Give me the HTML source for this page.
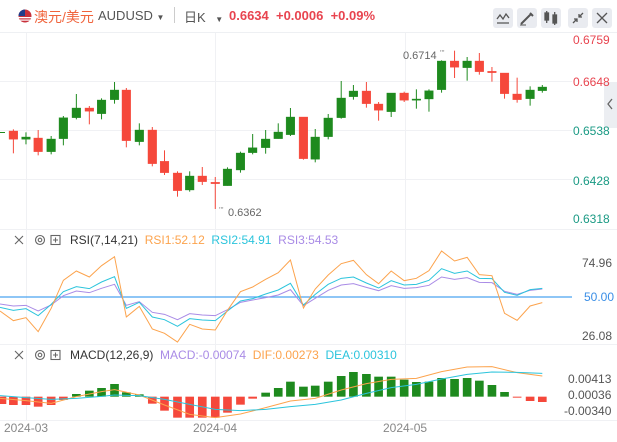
<!DOCTYPE html>
<html><head><meta charset="utf-8"><style>
body{margin:0;width:617px;height:442px;background:#fff;overflow:hidden;font-family:"Liberation Sans","Noto Sans CJK SC",sans-serif;position:relative}
.t{position:absolute;white-space:nowrap}
.btn{position:absolute;top:8px;width:20px;height:20px;background:#e9ebf0;border-radius:3px}
</style></head><body>
<svg width="617" height="442" style="position:absolute;left:0;top:0">
<line x1="0" y1="32.5" x2="617" y2="32.5" stroke="#eef0f3"/>
<g stroke="#f0f1f4" stroke-width="1">
<line x1="26.5" y1="33" x2="26.5" y2="420"/><line x1="215.5" y1="33" x2="215.5" y2="420"/><line x1="405.5" y1="33" x2="405.5" y2="420"/>
<line x1="0" y1="81.5" x2="572" y2="81.5"/><line x1="0" y1="130.5" x2="572" y2="130.5"/><line x1="0" y1="179.5" x2="572" y2="179.5"/>
<line x1="0" y1="229.5" x2="617" y2="229.5"/><line x1="0" y1="344.5" x2="617" y2="344.5"/><line x1="0" y1="420.5" x2="617" y2="420.5"/>
</g>
<rect x="604" y="82" width="13" height="46" fill="#eceef2"/>
<path d="M612 99 L608 104 L612 109" stroke="#666" fill="none" stroke-width="1.3"/>
<line x1="0" y1="132.5" x2="5" y2="132.5" stroke="#1e8a1e"/>
</svg>
<svg width="617" height="442" style="position:absolute;left:0;top:0">
<g transform="scale(0.39355,0.33333)">
<g fill="#f5483b" stroke="#f5483b">
<line x1="34" y1="388" x2="34" y2="460" vector-effect="non-scaling-stroke"/><rect x="23" y="393" width="22" height="25"/>
<line x1="97" y1="390" x2="97" y2="466" vector-effect="non-scaling-stroke"/><rect x="86" y="414" width="22" height="41"/>
<line x1="227" y1="318" x2="227" y2="373" vector-effect="non-scaling-stroke"/><rect x="216" y="324" width="22" height="10"/>
<line x1="321" y1="264" x2="321" y2="442" vector-effect="non-scaling-stroke"/><rect x="310" y="270" width="22" height="152"/>
<line x1="387" y1="381" x2="387" y2="499" vector-effect="non-scaling-stroke"/><rect x="376" y="390" width="22" height="101"/>
<line x1="418" y1="451" x2="418" y2="525" vector-effect="non-scaling-stroke"/><rect x="407" y="484" width="22" height="34"/>
<line x1="451" y1="514" x2="451" y2="590" vector-effect="non-scaling-stroke"/><rect x="440" y="519" width="22" height="53"/>
<line x1="514" y1="501" x2="514" y2="555" vector-effect="non-scaling-stroke"/><rect x="503" y="528" width="22" height="17"/>
<line x1="547" y1="531" x2="547" y2="627" vector-effect="non-scaling-stroke"/><rect x="536" y="547" width="22" height="4"/>
<line x1="771" y1="351" x2="771" y2="479" vector-effect="non-scaling-stroke"/><rect x="760" y="351" width="22" height="125"/>
<line x1="931" y1="246" x2="931" y2="323" vector-effect="non-scaling-stroke"/><rect x="920" y="273" width="22" height="38"/>
<line x1="962" y1="306" x2="962" y2="362" vector-effect="non-scaling-stroke"/><rect x="951" y="312" width="22" height="19"/>
<line x1="1027" y1="275" x2="1027" y2="306" vector-effect="non-scaling-stroke"/><rect x="1016" y="279" width="22" height="22"/>
<line x1="1155" y1="152" x2="1155" y2="234" vector-effect="non-scaling-stroke"/><rect x="1144" y="183" width="22" height="19"/>
<line x1="1218" y1="159" x2="1218" y2="224" vector-effect="non-scaling-stroke"/><rect x="1207" y="183" width="22" height="32"/>
<line x1="1250" y1="201" x2="1250" y2="245" vector-effect="non-scaling-stroke"/><rect x="1239" y="214" width="22" height="4"/>
<line x1="1282" y1="219" x2="1282" y2="296" vector-effect="non-scaling-stroke"/><rect x="1271" y="219" width="22" height="62"/>
<line x1="1314" y1="233" x2="1314" y2="308" vector-effect="non-scaling-stroke"/><rect x="1303" y="282" width="22" height="17"/>
</g>
<g fill="#1e8a1e" stroke="#1e8a1e">
<line x1="66" y1="397" x2="66" y2="433" vector-effect="non-scaling-stroke"/><rect x="55" y="411" width="22" height="7"/>
<line x1="130" y1="408" x2="130" y2="463" vector-effect="non-scaling-stroke"/><rect x="119" y="417" width="22" height="38"/>
<line x1="161" y1="348" x2="161" y2="436" vector-effect="non-scaling-stroke"/><rect x="150" y="353" width="22" height="63"/>
<line x1="194" y1="282" x2="194" y2="358" vector-effect="non-scaling-stroke"/><rect x="183" y="324" width="22" height="29"/>
<line x1="258" y1="295" x2="258" y2="358" vector-effect="non-scaling-stroke"/><rect x="247" y="300" width="22" height="41"/>
<line x1="291" y1="246" x2="291" y2="311" vector-effect="non-scaling-stroke"/><rect x="280" y="270" width="22" height="29"/>
<line x1="354" y1="370" x2="354" y2="436" vector-effect="non-scaling-stroke"/><rect x="343" y="390" width="22" height="35"/>
<line x1="482" y1="514" x2="482" y2="575" vector-effect="non-scaling-stroke"/><rect x="471" y="528" width="22" height="42"/>
<line x1="578" y1="502" x2="578" y2="557" vector-effect="non-scaling-stroke"/><rect x="567" y="507" width="22" height="50"/>
<line x1="611" y1="455" x2="611" y2="518" vector-effect="non-scaling-stroke"/><rect x="600" y="459" width="22" height="51"/>
<line x1="642" y1="402" x2="642" y2="463" vector-effect="non-scaling-stroke"/><rect x="631" y="443" width="22" height="15"/>
<line x1="675" y1="390" x2="675" y2="461" vector-effect="non-scaling-stroke"/><rect x="664" y="417" width="22" height="26"/>
<line x1="707" y1="370" x2="707" y2="416" vector-effect="non-scaling-stroke"/><rect x="696" y="396" width="22" height="20"/>
<line x1="738" y1="324" x2="738" y2="408" vector-effect="non-scaling-stroke"/><rect x="727" y="351" width="22" height="53"/>
<line x1="801" y1="387" x2="801" y2="487" vector-effect="non-scaling-stroke"/><rect x="790" y="411" width="22" height="67"/>
<line x1="834" y1="342" x2="834" y2="418" vector-effect="non-scaling-stroke"/><rect x="823" y="354" width="22" height="56"/>
<line x1="867" y1="243" x2="867" y2="356" vector-effect="non-scaling-stroke"/><rect x="856" y="294" width="22" height="59"/>
<line x1="898" y1="255" x2="898" y2="299" vector-effect="non-scaling-stroke"/><rect x="887" y="273" width="22" height="17"/>
<line x1="994" y1="279" x2="994" y2="351" vector-effect="non-scaling-stroke"/><rect x="983" y="279" width="22" height="56"/>
<line x1="1058" y1="268" x2="1058" y2="326" vector-effect="non-scaling-stroke"/><rect x="1047" y="297" width="22" height="4"/>
<line x1="1090" y1="268" x2="1090" y2="335" vector-effect="non-scaling-stroke"/><rect x="1079" y="272" width="22" height="25"/>
<line x1="1122" y1="181" x2="1122" y2="278" vector-effect="non-scaling-stroke"/><rect x="1111" y="183" width="22" height="86"/>
<line x1="1187" y1="171" x2="1187" y2="242" vector-effect="non-scaling-stroke"/><rect x="1176" y="183" width="22" height="20"/>
<line x1="1347" y1="259" x2="1347" y2="317" vector-effect="non-scaling-stroke"/><rect x="1336" y="270" width="22" height="26"/>
<line x1="1378" y1="255" x2="1378" y2="278" vector-effect="non-scaling-stroke"/><rect x="1367" y="261" width="22" height="11"/>
</g>
</g>
<text x="403" y="59" font-size="11" fill="#666" font-family="Liberation Sans,sans-serif">0.6714</text>
<text x="440" y="56" font-size="8" fill="#888">'''</text>
<text x="219" y="213" font-size="8" fill="#888">'''</text>
<text x="228" y="216" font-size="11" fill="#666" font-family="Liberation Sans,sans-serif">0.6362</text>
<line x1="0" y1="297" x2="572" y2="297" stroke="#4aa3f0" stroke-width="1.3"/>
<g transform="translate(0,225) scale(0.39355,0.33333)" fill="none" stroke-width="1">
<polyline vector-effect="non-scaling-stroke" stroke="#a98be6" points="0,237 34,243 66,241 97,258 130,240 161,212 194,198 227,203 258,190 291,178 321,241 354,230 387,262 418,268 451,284 482,266 514,270 547,272 578,254 611,232 642,225 675,218 707,210 738,194 771,242 801,220 834,196 867,180 898,176 931,187 962,197 994,182 1027,190 1058,188 1090,181 1122,156 1155,163 1187,158 1218,172 1250,173 1282,199 1314,208 1347,196 1378,192"/>
<polyline vector-effect="non-scaling-stroke" stroke="#2bc4dc" points="0,247 34,256 66,251 97,272 130,238 161,200 194,185 227,191 258,171 291,155 321,250 354,232 387,276 418,284 451,304 482,281 514,285 547,287 578,258 611,228 642,221 675,207 707,195 738,175 771,240 801,208 834,178 867,160 898,156 931,174 962,189 994,167 1027,180 1058,178 1090,166 1122,131 1155,145 1187,138 1218,160 1250,161 1282,202 1314,211 1347,194 1378,190"/>
<polyline vector-effect="non-scaling-stroke" stroke="#fca34d" points="0,258 34,287 66,278 97,320 130,250 161,166 194,138 227,156 258,122 291,95 321,276 354,244 387,312 418,325 451,351 482,298 514,312 547,315 578,256 611,200 642,186 675,163 707,143 738,105 771,249 801,192 834,150 867,116 898,106 931,149 962,176 994,138 1027,167 1058,160 1090,137 1122,78 1155,108 1187,97 1218,149 1250,152 1282,265 1314,286 1347,243 1378,233"/>
</g>
<g transform="translate(0,225) scale(0.39355,0.33333)">
<g fill="#f5483b">
<rect x="-6" y="515" width="22" height="22"/><rect x="23" y="515" width="22" height="25"/><rect x="55" y="515" width="22" height="25"/><rect x="86" y="515" width="22" height="30"/><rect x="119" y="515" width="22" height="25"/><rect x="150" y="515" width="22" height="10"/>
<rect x="376" y="515" width="22" height="21"/><rect x="407" y="515" width="22" height="42"/><rect x="440" y="515" width="22" height="63"/><rect x="471" y="515" width="22" height="63"/><rect x="503" y="515" width="22" height="63"/><rect x="536" y="515" width="22" height="63"/><rect x="567" y="515" width="22" height="48"/><rect x="600" y="515" width="22" height="24"/><rect x="631" y="515" width="22" height="6"/>
<rect x="1303" y="515" width="22" height="3"/><rect x="1336" y="515" width="22" height="13"/><rect x="1367" y="515" width="22" height="16"/>
</g>
<g fill="#1e8a1e">
<rect x="183" y="507" width="22" height="8"/><rect x="216" y="497" width="22" height="18"/><rect x="247" y="489" width="22" height="26"/><rect x="280" y="477" width="22" height="38"/><rect x="310" y="502" width="22" height="13"/><rect x="343" y="508" width="22" height="7"/>
<rect x="664" y="503" width="22" height="12"/><rect x="696" y="489" width="22" height="26"/><rect x="727" y="470" width="22" height="45"/><rect x="760" y="485" width="22" height="30"/><rect x="790" y="482" width="22" height="33"/><rect x="823" y="470" width="22" height="45"/><rect x="856" y="453" width="22" height="62"/><rect x="887" y="441" width="22" height="74"/><rect x="920" y="447" width="22" height="68"/><rect x="951" y="455" width="22" height="60"/><rect x="983" y="455" width="22" height="60"/><rect x="1016" y="464" width="22" height="51"/><rect x="1047" y="471" width="22" height="44"/><rect x="1079" y="470" width="22" height="45"/><rect x="1111" y="459" width="22" height="56"/><rect x="1144" y="462" width="22" height="53"/><rect x="1176" y="459" width="22" height="56"/><rect x="1207" y="467" width="22" height="48"/><rect x="1239" y="480" width="22" height="35"/><rect x="1271" y="501" width="22" height="14"/>
</g>
<polyline vector-effect="non-scaling-stroke" fill="none" stroke="#fca34d" points="0,520 66,527 130,535 194,515 258,500 291,494 354,510 418,540 482,568 547,578 611,567 675,548 738,528 801,520 867,495 931,476 994,463 1058,460 1122,440 1187,426 1250,425 1314,443 1378,453"/>
<polyline vector-effect="non-scaling-stroke" fill="none" stroke="#2bc4dc" points="0,512 66,518 130,523 194,520 258,514 291,510 354,512 418,523 482,538 547,553 611,557 675,553 738,545 801,538 867,525 931,505 994,488 1058,478 1122,462 1187,448 1250,441 1314,442 1378,445"/>
</g>
<g stroke="#666" stroke-width="1.1" fill="none">
<path d="M15 236 L23 244 M23 236 L15 244"/><circle cx="40" cy="240" r="4.5"/><circle cx="40" cy="240" r="1.8"/><rect x="51" y="235.5" width="9" height="9"/><path d="M55.5 237.5 V242.5 M53 240 H58"/>
<path d="M15 351 L23 359 M23 351 L15 359"/><circle cx="40" cy="355" r="4.5"/><circle cx="40" cy="355" r="1.8"/><rect x="51" y="350.5" width="9" height="9"/><path d="M55.5 352.5 V357.5 M53 355 H58"/>
</g>
<circle cx="25" cy="16" r="6.5" fill="#c8303a"/><path d="M18.5 16 A6.5 6.5 0 0 1 25 9.5 V16 Z" fill="#1f3d8a"/><rect x="18.5" y="17" width="13" height="1.3" fill="#fff"/><rect x="18.5" y="19.5" width="12" height="1.2" fill="#fff"/>
</svg>
<div class="t" style="left:34px;top:7px;font-size:14px;color:#f0643c">澳元/美元</div>
<div class="t" style="left:98px;top:8px;font-size:13px;color:#555">AUDUSD <span style="font-size:8px">▼</span></div>
<div class="t" style="left:174px;top:7px;width:1px;height:16px;background:#ccc"></div>
<div class="t" style="left:184px;top:7px;font-size:13px;color:#555">日K <span style="font-size:8px;margin-left:6px">▼</span></div>
<div class="t" style="left:229px;top:8px;font-size:13px;font-weight:bold;color:#e8444f">0.6634 &nbsp;+0.0006 &nbsp;+0.09%</div>
<div class="btn" style="left:493px"></div><div class="btn" style="left:517px"></div><div class="btn" style="left:541px"></div><div class="btn" style="left:568px"></div><div class="btn" style="left:592px"></div>
<svg width="617" height="40" style="position:absolute;left:0;top:0" stroke="#555" fill="none" stroke-width="1.3">
<path d="M497 19 L500 15 L503 19 L506 14 L509 18 M497 23 H509"/>
<path d="M521 24 L531 14 M530 13 L533 16" stroke-width="2"/><path d="M520 25 H526" stroke-width="1"/>
<rect x="545" y="13" width="3.5" height="7" fill="#555"/><rect x="553" y="15" width="3.5" height="8" fill="#555"/><path d="M546.7 11 V23 M554.7 12 V25"/>
<path d="M573 23 L577 19 M574 19 H577 V22 M583 13 L579 17 M579 14 V17 H582"/>
<path d="M597 13 L607 23 M607 13 L597 23"/>
</svg>
<div class="t" style="left:573px;top:33px;font-size:12px;color:#e8444f">0.6759</div>
<div class="t" style="left:573px;top:75px;font-size:12px;color:#e8444f">0.6648</div>
<div class="t" style="left:573px;top:124px;font-size:12px;color:#1a9a84">0.6538</div>
<div class="t" style="left:573px;top:174px;font-size:12px;color:#1a9a84">0.6428</div>
<div class="t" style="left:573px;top:212px;font-size:12px;color:#1a9a84">0.6318</div>
<div class="t" style="left:70px;top:233px;font-size:12px;color:#333">RSI(7,14,21) <span style="color:#fca34d">&nbsp;RSI1:52.12</span> <span style="color:#2bc4dc">&nbsp;RSI2:54.91</span> <span style="color:#a98be6">&nbsp;RSI3:54.53</span></div>
<div class="t" style="left:582px;top:256px;font-size:12px;color:#555">74.96</div>
<div class="t" style="left:584px;top:290px;font-size:12px;color:#3a8ee6">50.00</div>
<div class="t" style="left:582px;top:329px;font-size:12px;color:#555">26.08</div>
<div class="t" style="left:70px;top:348px;font-size:12px;color:#333">MACD(12,26,9) <span style="color:#a98be6">&nbsp;MACD:-0.00074</span> <span style="color:#fca34d">&nbsp;DIF:0.00273</span> <span style="color:#2bc4dc">&nbsp;DEA:0.00310</span></div>
<div class="t" style="left:568px;top:372px;font-size:12px;color:#555">0.00413</div>
<div class="t" style="left:568px;top:388px;font-size:12px;color:#555">0.00036</div>
<div class="t" style="left:564px;top:404px;font-size:12px;color:#555">-0.00340</div>
<div class="t" style="left:4px;top:421px;font-size:12px;color:#888">2024-03</div>
<div class="t" style="left:193px;top:421px;font-size:12px;color:#888">2024-04</div>
<div class="t" style="left:383px;top:421px;font-size:12px;color:#888">2024-05</div>
</body></html>
